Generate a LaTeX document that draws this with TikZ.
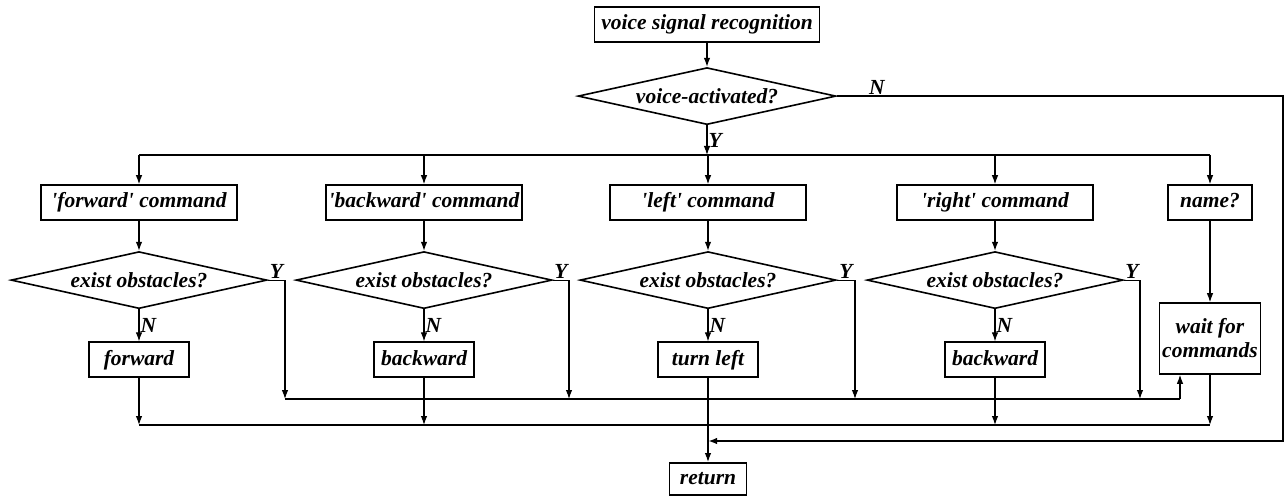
\documentclass[tikz,border=0pt]{standalone}
\usepackage{fontspec}
\setmainfont{Liberation Serif}
\usetikzlibrary{shapes.geometric, arrows.meta, positioning}

\begin{document}
\begin{tikzpicture}[
  x=1pt, y=-1pt,
  every node/.style={font=\fontsize{21.5}{24}\selectfont\bfseries\itshape},
  stepbox/.style={draw, rectangle, line width=1.6pt, inner sep=2pt,
                  text height=15pt, text depth=4pt,
                  minimum height=35pt, align=center},
  ask/.style={draw, diamond, aspect=4.5, inner sep=0pt, line width=1.6pt,
              minimum width=256pt, minimum height=57pt},
  arr/.style={line width=1.1pt, -{Latex[length=9pt,width=6.5pt]}},
  bus/.style={line width=1.1pt},
  back/.style={line width=2pt, -{Latex[length=9pt,width=6.5pt]}},
  lab/.style={inner sep=1pt}
]
  \useasboundingbox (0,0) rectangle (1285,497);

  \node[stepbox, minimum width=225pt] (recog) at (707,24.5) {voice signal recognition};
  \node[ask, minimum width=258pt, below=24pt of recog] (act) {voice-activated?};
  \coordinate (split) at (707,155);

  % command boxes
  \node[stepbox, minimum width=196pt] (cmdF) at (139,202.5) {\textquotesingle forward\textquotesingle{} command};
  \node[stepbox, minimum width=196pt] (cmdB) at (424,202.5) {\textquotesingle backward\textquotesingle{} command};
  \node[stepbox, minimum width=196pt] (cmdL) at (708,202.5) {\textquotesingle left\textquotesingle{} command};
  \node[stepbox, minimum width=196pt] (cmdR) at (995,202.5) {\textquotesingle right\textquotesingle{} command};
  \node[stepbox, minimum width=84pt] (name) at (1210,202.5) {name?};

  % obstacle checks
  \node[ask, below=30pt of cmdF] (obsF) {exist obstacles?};
  \node[ask, below=30pt of cmdB] (obsB) {exist obstacles?};
  \node[ask, below=30pt of cmdL] (obsL) {exist obstacles?};
  \node[ask, below=30pt of cmdR] (obsR) {exist obstacles?};

  % actions
  \node[stepbox, minimum width=100pt, below=32pt of obsF] (doF) {forward};
  \node[stepbox, minimum width=100pt, below=32pt of obsB] (doB) {backward};
  \node[stepbox, minimum width=100pt, below=32pt of obsL] (doL) {turn left};
  \node[stepbox, minimum width=100pt, below=32pt of obsR] (doR) {backward};
  \node[stepbox, text height=, text depth=, minimum width=101pt, minimum height=71pt] (wait) at (1210,338.5) {wait for\\commands};
  \node[stepbox, minimum width=77pt, minimum height=32pt, below=84pt of doL] (ret) {return};

  \coordinate (yF) at (285,399);
  \coordinate (yB) at (569,399);
  \coordinate (yL) at (855,399);
  \coordinate (yR) at (1140,399);
  \coordinate (yEnd) at (1180,399);
  \coordinate (nbus) at (0,425);
  \coordinate (rim) at (1283,441);
  \coordinate (join) at (708,441);

  \draw[arr] (recog) -- (act);
  \draw[arr] (act) -- node[right, lab]{Y} (split);
  \draw[bus] (cmdF |- split) -- (name |- split);
  \draw[arr] (cmdF |- split) -- (cmdF);
  \draw[arr] (cmdB |- split) -- (cmdB);
  \draw[arr] (cmdL |- split) -- (cmdL);
  \draw[arr] (cmdR |- split) -- (cmdR);
  \draw[arr] (name |- split) -- (name);

  \draw[arr] (cmdF) -- (obsF);
  \draw[arr] (cmdB) -- (obsB);
  \draw[arr] (cmdL) -- (obsL);
  \draw[arr] (cmdR) -- (obsR);

  \draw[arr] (obsF) -- node[right, lab]{N} (doF);
  \draw[arr] (obsB) -- node[right, lab]{N} (doB);
  \draw[arr] (obsL) -- node[right, lab]{N} (doL);
  \draw[arr] (obsR) -- node[right, lab]{N} (doR);

  \draw[arr] (obsF.east) -| node[pos=0.25, above, lab]{Y} (yF);
  \draw[arr] (obsB.east) -| node[pos=0.25, above, lab]{Y} (yB);
  \draw[arr] (obsL.east) -| node[pos=0.25, above, lab]{Y} (yL);
  \draw[arr] (obsR.east) -| node[pos=0.25, above, lab]{Y} (yR);
  \draw[bus] (yF) -- (yEnd);
  \draw[arr] (yEnd) -- (yEnd |- wait.south);
  \draw[arr] (name) -- (wait);

  \draw[arr] (doF) -- (doF |- nbus);
  \draw[arr] (doB) -- (doB |- nbus);
  \draw[arr] (doR) -- (doR |- nbus);
  \draw[arr] (wait) -- (wait |- nbus);
  \draw[bus] (doF |- nbus) -- (wait |- nbus);

  \draw[arr] (doL) -- (ret);
  \draw[back] (act.east) -| node[pos=0.045, above, lab]{N} (rim) -- (join);
\end{tikzpicture}
\end{document}
